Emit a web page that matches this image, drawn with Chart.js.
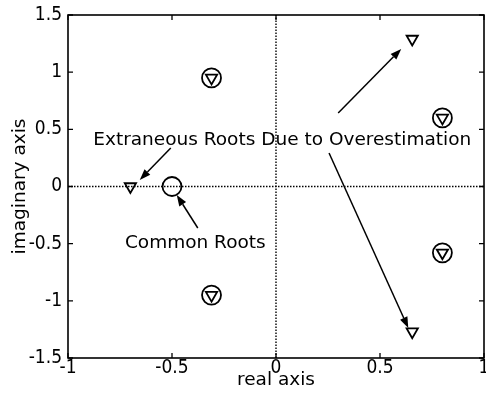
<!DOCTYPE html>
<html>
<head>
<meta charset="utf-8">
<script src="https://cdn.jsdelivr.net/npm/chart.js@4/dist/chart.umd.min.js"></script>
<style>
  html, body { margin: 0; padding: 0; background: #fff; }
  #wrap { width: 486px; height: 408px; }
</style>
</head>
<body>
<div id="wrap"><canvas id="c" width="486" height="408"></canvas></div>
<script>
// Root locations in the complex plane (real, imaginary)
const commonRootsRe = [-0.31, -0.31, 0.80, 0.80, -0.50];
const commonRootsIm = [0.95, -0.95, 0.60, -0.58, 0.00];
const estRootsRe = [-0.31, -0.31, 0.80, 0.80, -0.70, 0.655, 0.655];
const estRootsIm = [0.95, -0.95, 0.60, -0.58, 0.00, 1.29, -1.27];

// Axis ticks
const xTickValues = [-1, -0.5, 0, 0.5, 1];
const xTickLabels = ['-1', '-0.5', '0', '0.5', '1'];
const yTickValues = [-1.5, -1, -0.5, 0, 0.5, 1, 1.5];
const yTickLabels = ['-1.5', '-1', '-0.5', '0', '0.5', '1', '1.5'];

// Annotation texts (anchor in data units) and arrows [fromRe, fromIm, toRe, toIm]
const noteTexts = ['Extraneous Roots Due to Overestimation', 'Common Roots'];
const noteRe = [0.03, -0.388];
const noteIm = [0.363, -0.538];
const arrows = [
  [-0.506, 0.337, -0.655, 0.057],
  [-0.376, -0.363, -0.477, -0.074],
  [0.299, 0.643, 0.602, 1.203],
  [0.255, 0.293, 0.636, -1.238]
];

const TICK_FONT = '"DejaVu Sans Condensed", "DejaVu Sans", sans-serif';
const TEXT_FONT = '"DejaVu Sans", sans-serif';

const toPoints = (re, im) => re.map((r, i) => ({ x: r, y: im[i] }));

const framePlugin = {
  id: 'frame',
  afterDatasetsDraw(chart) {
    const { ctx, chartArea: a, scales } = chart;
    const xs = scales.x, ys = scales.y;
    ctx.save();
    // box
    ctx.strokeStyle = '#000';
    ctx.lineWidth = 1.6;
    ctx.strokeRect(a.left, a.top, a.right - a.left, a.bottom - a.top);
    // inward tick marks on all sides
    const tl = 5;
    ctx.lineWidth = 1.3;
    ctx.beginPath();
    xTickValues.forEach(v => {
      const px = xs.getPixelForValue(v);
      ctx.moveTo(px, a.bottom); ctx.lineTo(px, a.bottom - tl);
      ctx.moveTo(px, a.top); ctx.lineTo(px, a.top + tl);
    });
    yTickValues.forEach(v => {
      const py = ys.getPixelForValue(v);
      ctx.moveTo(a.left, py); ctx.lineTo(a.left + tl, py);
      ctx.moveTo(a.right, py); ctx.lineTo(a.right - tl, py);
    });
    ctx.stroke();

    // arrows
    ctx.fillStyle = '#000';
    ctx.lineWidth = 1.5;
    arrows.forEach(([r0, i0, r1, i1]) => {
      const x0 = xs.getPixelForValue(r0), y0 = ys.getPixelForValue(i0);
      const x1 = xs.getPixelForValue(r1), y1 = ys.getPixelForValue(i1);
      const ang = Math.atan2(y1 - y0, x1 - x0);
      const hl = 11, hw = 4;
      const bx = x1 - hl * Math.cos(ang), by = y1 - hl * Math.sin(ang);
      ctx.beginPath();
      ctx.moveTo(x0, y0); ctx.lineTo(bx, by);
      ctx.stroke();
      ctx.beginPath();
      ctx.moveTo(x1, y1);
      ctx.lineTo(bx + hw * Math.sin(ang), by - hw * Math.cos(ang));
      ctx.lineTo(bx - hw * Math.sin(ang), by + hw * Math.cos(ang));
      ctx.closePath();
      ctx.fill();
    });

    // annotation texts
    ctx.font = '18.5px ' + TEXT_FONT;
    ctx.textAlign = 'center';
    ctx.textBaseline = 'alphabetic';
    noteTexts.forEach((t, i) => {
      ctx.fillText(t, xs.getPixelForValue(noteRe[i]), ys.getPixelForValue(noteIm[i]));
    });

    // axis titles
    ctx.font = '18.5px ' + TEXT_FONT;
    ctx.fillText('real axis', (a.left + a.right) / 2, 385);
    ctx.translate(25, (a.top + a.bottom) / 2);
    ctx.rotate(-Math.PI / 2);
    ctx.fillText('imaginary axis', 0, 0);
    ctx.restore();
  }
};

new Chart(document.getElementById('c'), {
  type: 'scatter',
  data: {
    datasets: [
      {
        data: [{ x: 0, y: -1.5 }, { x: 0, y: 1.5 }],
        showLine: true, borderColor: '#000', borderWidth: 1.4,
        borderDash: [1.5, 1.5], pointRadius: 0
      },
      {
        data: [{ x: -1, y: 0 }, { x: 1, y: 0 }],
        showLine: true, borderColor: '#000', borderWidth: 1.4,
        borderDash: [1.5, 1.5], pointRadius: 0
      },
      {
        data: toPoints(commonRootsRe, commonRootsIm),
        pointStyle: 'circle', pointRadius: 9.5,
        borderColor: '#000', backgroundColor: 'rgba(0,0,0,0)', borderWidth: 1.8
      },
      {
        data: toPoints(estRootsRe, estRootsIm),
        pointStyle: 'triangle', rotation: 180, pointRadius: 6.5,
        borderColor: '#000', backgroundColor: 'rgba(0,0,0,0)', borderWidth: 1.8
      }
    ]
  },
  options: {
    responsive: false,
    animation: false,
    events: [],
    layout: { autoPadding: false, padding: { top: 15, right: 2, left: 0, bottom: 0 } },
    plugins: { legend: { display: false }, tooltip: { enabled: false } },
    scales: {
      x: {
        type: 'linear', min: -1, max: 1,
        grid: { display: false, drawTicks: false },
        border: { display: false },
        afterFit: s => { s.height = 50; s.paddingLeft = 0; s.paddingRight = 0; },
        afterBuildTicks: s => { s.ticks = xTickValues.map(v => ({ value: v })); },
        ticks: {
          padding: -1, color: '#000', font: { family: TICK_FONT, size: 19 },
          maxRotation: 0, autoSkip: false,
          callback: v => xTickLabels[xTickValues.indexOf(v)]
        }
      },
      y: {
        type: 'linear', min: -1.5, max: 1.5,
        grid: { display: false, drawTicks: false },
        border: { display: false },
        afterFit: s => { s.width = 68; s.paddingTop = 0; s.paddingBottom = 0; },
        afterBuildTicks: s => { s.ticks = yTickValues.map(v => ({ value: v })); },
        ticks: {
          padding: 6, color: '#000', font: { family: TICK_FONT, size: 19 },
          autoSkip: false,
          callback: v => yTickLabels[yTickValues.indexOf(v)]
        }
      }
    }
  },
  plugins: [framePlugin]
});
</script>
</body>
</html>
